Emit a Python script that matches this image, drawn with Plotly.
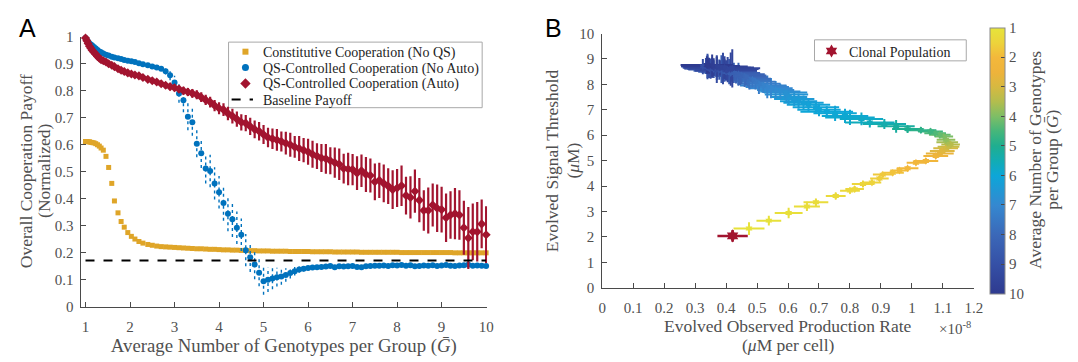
import plotly.graph_objects as go
from plotly.colors import sample_colorscale

# ---------------- Panel A data ----------------
G_A = [1.0, 1.03, 1.06, 1.09, 1.12, 1.15, 1.19, 1.23, 1.27, 1.31, 1.35, 1.4, 1.46, 1.52,
       1.59, 1.65, 1.73, 1.8, 1.87, 1.95, 2.03, 2.11, 2.2, 2.29,
       2.4, 2.5, 2.6, 2.7, 2.8, 2.9, 3.0,
       3.1, 3.2, 3.3, 3.4, 3.5, 3.6, 3.7, 3.8, 3.9, 4.0,
       4.1, 4.2, 4.3, 4.4, 4.5, 4.6, 4.7, 4.8, 4.9, 5.0,
       5.1, 5.2, 5.3, 5.4, 5.5, 5.6, 5.7, 5.8, 5.9, 6.0,
       6.1, 6.2, 6.3, 6.4, 6.5, 6.6, 6.7, 6.8, 6.9, 7.0,
       7.1, 7.2, 7.3, 7.4, 7.5, 7.6, 7.7, 7.8, 7.9, 8.0,
       8.1, 8.2, 8.3, 8.4, 8.5, 8.6, 8.7, 8.8, 8.9, 9.0,
       9.1, 9.2, 9.3, 9.4, 9.5, 9.6, 9.7, 9.8, 9.9, 10.0]

const_payoff = [0.612, 0.612, 0.611, 0.611, 0.609, 0.608, 0.607, 0.604, 0.600, 0.595, 0.588, 0.580,
                0.557, 0.516, 0.457, 0.392, 0.348, 0.316, 0.295, 0.275, 0.261, 0.251, 0.242, 0.236,
                0.231, 0.228, 0.225, 0.223, 0.222, 0.221, 0.220,
                0.219, 0.218, 0.217, 0.216, 0.215, 0.215, 0.214, 0.213, 0.213, 0.212,
                0.211, 0.211, 0.210, 0.210, 0.209, 0.209, 0.208, 0.208, 0.207, 0.207,
                0.207, 0.206, 0.206, 0.206, 0.206, 0.205, 0.205, 0.205, 0.205, 0.205,
                0.204, 0.204, 0.204, 0.204, 0.204, 0.203, 0.203, 0.203, 0.203, 0.203,
                0.203, 0.202, 0.202, 0.202, 0.202, 0.202, 0.202, 0.202, 0.202, 0.202,
                0.201, 0.201, 0.201, 0.201, 0.201, 0.201, 0.201, 0.201, 0.201, 0.201,
                0.201, 0.201, 0.200, 0.200, 0.200, 0.200, 0.200, 0.200, 0.200, 0.200]

qs_noauto = [0.995, 0.988, 0.981, 0.975, 0.971, 0.967, 0.962, 0.956, 0.951, 0.945, 0.942, 0.938,
             0.933, 0.930, 0.926, 0.923, 0.920, 0.917, 0.914, 0.911, 0.909, 0.906, 0.902, 0.898,
             0.894, 0.890, 0.886, 0.881, 0.872, 0.857, 0.830,
             0.790, 0.765, 0.704, 0.683, 0.604, 0.569, 0.512, 0.503, 0.457, 0.424,
             0.384, 0.345, 0.324, 0.293, 0.267, 0.210, 0.184, 0.157, 0.126, 0.095,
             0.100, 0.105, 0.110, 0.112, 0.118, 0.125, 0.132, 0.138, 0.141, 0.144,
             0.146, 0.147, 0.148, 0.149, 0.151, 0.147, 0.150, 0.149, 0.150, 0.151,
             0.148, 0.147, 0.150, 0.151, 0.152, 0.152, 0.153, 0.151, 0.154, 0.153,
             0.155, 0.152, 0.154, 0.150, 0.151, 0.153, 0.152, 0.154, 0.151, 0.153,
             0.155, 0.152, 0.151, 0.153, 0.154, 0.156, 0.152, 0.153, 0.152, 0.151]

qs_noauto_err = [0.004, 0.004, 0.004, 0.004, 0.004, 0.004, 0.004, 0.004, 0.004, 0.004, 0.004, 0.004,
                 0.004, 0.004, 0.004, 0.004, 0.004, 0.004, 0.004, 0.004, 0.004, 0.004, 0.004, 0.004,
                 0.004, 0.005, 0.006, 0.008, 0.012, 0.018, 0.025,
                 0.035, 0.045, 0.050, 0.050, 0.050, 0.055, 0.055, 0.060, 0.060, 0.060,
                 0.065, 0.065, 0.065, 0.060, 0.060, 0.060, 0.055, 0.055, 0.050, 0.050,
                 0.045, 0.040, 0.035, 0.030, 0.025, 0.020, 0.016, 0.012, 0.010, 0.008,
                 0.008, 0.007, 0.007, 0.006, 0.006, 0.006, 0.005, 0.005, 0.005, 0.005,
                 0.005, 0.005, 0.005, 0.005, 0.005, 0.005, 0.005, 0.005, 0.005, 0.005,
                 0.005, 0.005, 0.005, 0.005, 0.005, 0.005, 0.005, 0.005, 0.005, 0.005,
                 0.005, 0.005, 0.005, 0.005, 0.005, 0.005, 0.005, 0.005, 0.005, 0.005]

qs_auto = [0.995, 0.985, 0.975, 0.965, 0.957, 0.950, 0.942, 0.935, 0.927, 0.920, 0.915, 0.911,
           0.906, 0.900, 0.894, 0.889, 0.881, 0.876, 0.871, 0.866, 0.862, 0.858, 0.855, 0.849,
           0.842, 0.837, 0.832, 0.826, 0.820, 0.815, 0.811,
           0.806, 0.800, 0.795, 0.790, 0.785, 0.776, 0.766, 0.758, 0.745, 0.735,
           0.730, 0.716, 0.706, 0.695, 0.683, 0.680, 0.668, 0.657, 0.650, 0.638,
           0.627, 0.622, 0.618, 0.612, 0.606, 0.600, 0.592, 0.586, 0.580, 0.574,
           0.565, 0.558, 0.551, 0.548, 0.541, 0.534, 0.528, 0.512, 0.510, 0.508,
           0.495, 0.504, 0.490, 0.486, 0.463, 0.468, 0.457, 0.447, 0.434, 0.440,
           0.448, 0.412, 0.405, 0.428, 0.395, 0.357, 0.357, 0.377, 0.365, 0.360,
           0.330, 0.340, 0.345, 0.340, 0.293, 0.255, 0.278, 0.278, 0.307, 0.267]

qs_auto_err = [0.004, 0.004, 0.005, 0.005, 0.005, 0.005, 0.006, 0.006, 0.006, 0.006, 0.007, 0.007,
               0.007, 0.007, 0.008, 0.008, 0.008, 0.008, 0.009, 0.009, 0.009, 0.009, 0.010, 0.010,
               0.010, 0.011, 0.011, 0.012, 0.012, 0.013, 0.013,
               0.014, 0.015, 0.015, 0.016, 0.017, 0.018, 0.019, 0.020, 0.021, 0.022,
               0.024, 0.025, 0.027, 0.028, 0.030, 0.030, 0.032, 0.033, 0.034, 0.035,
               0.036, 0.038, 0.040, 0.037, 0.042, 0.044, 0.040, 0.046, 0.045, 0.048,
               0.050, 0.048, 0.052, 0.055, 0.050, 0.056, 0.058, 0.055, 0.060, 0.058,
               0.062, 0.060, 0.065, 0.063, 0.068, 0.065, 0.070, 0.066, 0.072, 0.070,
               0.075, 0.070, 0.078, 0.080, 0.082, 0.075, 0.085, 0.080, 0.088, 0.085,
               0.090, 0.088, 0.095, 0.092, 0.100, 0.115, 0.105, 0.110, 0.090, 0.105]

baseline_x = [1.0, 10.0]
baseline_y = [0.172, 0.172]

legend_A = ["Constitutive Cooperation (No QS)", "QS-Controlled Cooperation (No Auto)",
            "QS-Controlled Cooperation (Auto)", "Baseline Payoff"]

# ---------------- Panel B data ----------------
B_G = [1.05, 1.1, 1.15, 1.2, 1.25, 1.3, 1.35, 1.4, 1.45, 1.5, 1.6, 1.7, 1.8, 1.9,
       2.0, 2.1, 2.2, 2.4, 2.6, 2.8, 3.0, 3.2, 3.4, 3.6, 3.8, 4.0, 4.2, 4.4, 4.6, 4.8,
       5.0, 5.2, 5.4, 5.6, 5.75,
       5.85, 5.9, 5.95, 6.0, 6.05, 6.1, 6.15, 6.2, 6.3, 6.4, 6.5, 6.6, 6.7, 6.8, 6.9, 7.0,
       7.1, 7.2, 7.35, 7.5,
       7.6, 7.7, 7.8, 7.9, 8.0, 8.1, 8.15, 8.2, 8.25, 8.3, 8.35, 8.4, 8.45, 8.5, 8.55,
       8.6, 8.65, 8.7, 8.75, 8.8, 8.85, 8.9, 8.95, 9.0, 9.05, 9.1, 9.15, 9.2, 9.25, 9.3,
       9.4, 9.45, 9.5, 9.55, 9.6, 9.65, 9.7, 9.8, 9.85, 9.9, 10.0]
B_rate = [0.474, 0.538, 0.602, 0.661, 0.690, 0.754, 0.800, 0.815, 0.842, 0.871, 0.895, 0.906, 0.938, 0.960,
          0.986, 1.013, 1.045, 1.077, 1.090, 1.098, 1.109, 1.118, 1.125, 1.114, 1.110, 1.103, 1.090, 1.075,
          1.060, 1.029, 0.986, 0.949, 0.911, 0.864, 0.837,
          0.800, 0.784, 0.752, 0.725, 0.700, 0.690, 0.666, 0.650, 0.634, 0.620, 0.602, 0.595, 0.592,
          0.575, 0.560, 0.545, 0.533, 0.520, 0.506, 0.495, 0.485, 0.475, 0.470, 0.460, 0.464, 0.450,
          0.445, 0.440, 0.432, 0.425, 0.415, 0.410, 0.400, 0.395, 0.390, 0.385, 0.378, 0.370, 0.360,
          0.355, 0.346, 0.340, 0.340, 0.335, 0.325, 0.345, 0.350, 0.370, 0.390, 0.405, 0.400, 0.415,
          0.420, 0.395, 0.380, 0.370, 0.360, 0.355, 0.345, 0.338, 0.340]
B_rate_err = [0.050, 0.040, 0.045, 0.042, 0.040, 0.032, 0.032, 0.030, 0.036, 0.030, 0.030, 0.032, 0.036, 0.030,
              0.035, 0.030, 0.040, 0.040, 0.045, 0.040, 0.040, 0.035, 0.030, 0.035, 0.030, 0.030, 0.035, 0.035,
              0.040, 0.050, 0.050, 0.060, 0.070, 0.080, 0.070,
              0.080, 0.075, 0.070, 0.085, 0.070, 0.075, 0.070, 0.065, 0.060, 0.065, 0.060, 0.070, 0.070,
              0.065, 0.060, 0.070, 0.070, 0.075, 0.070, 0.065, 0.060, 0.070, 0.075, 0.070, 0.070, 0.080,
              0.080, 0.085, 0.080, 0.085, 0.085, 0.090, 0.090, 0.095, 0.095, 0.090, 0.100, 0.090, 0.085,
              0.085, 0.080, 0.080, 0.075, 0.080, 0.070, 0.085, 0.085, 0.090, 0.090, 0.095, 0.100, 0.090,
              0.090, 0.095, 0.100, 0.100, 0.095, 0.090, 0.090, 0.085, 0.080]
B_thr = [2.33, 2.64, 2.94, 3.20, 3.36, 3.61, 3.82, 3.88, 4.08, 4.14, 4.30, 4.45, 4.52, 4.61,
         4.70, 4.92, 4.99, 5.18, 5.28, 5.38, 5.49, 5.55, 5.63, 5.72, 5.82, 5.95, 6.02, 6.08,
         6.15, 6.20, 6.24, 6.35, 6.44, 6.50, 6.64,
         6.70, 6.76, 6.86, 6.92, 7.00, 7.10, 7.20, 7.28, 7.34, 7.42, 7.50, 7.60, 7.68,
         7.72, 7.78, 7.85, 7.90, 7.96, 8.02, 8.10, 8.18, 8.15, 8.22, 8.30, 8.28, 8.35,
         8.33, 8.40, 8.38, 8.45, 8.45, 8.50, 8.50, 8.55, 8.54, 8.60, 8.58, 8.62, 8.60,
         8.66, 8.63, 8.70, 8.70, 8.74, 8.70, 8.65, 8.62, 8.60, 8.62, 8.58, 8.55, 8.60,
         8.63, 8.66, 8.65, 8.70, 8.68, 8.72, 8.72, 8.76, 8.75]
B_thr_err = [0.25, 0.19, 0.21, 0.18, 0.15, 0.14, 0.12, 0.12, 0.13, 0.11, 0.10, 0.10, 0.10, 0.09,
             0.08, 0.10, 0.10, 0.10, 0.09, 0.10, 0.10, 0.10, 0.12, 0.12, 0.12, 0.12, 0.15, 0.13,
             0.12, 0.12, 0.15, 0.25, 0.20, 0.20, 0.25,
             0.30, 0.28, 0.30, 0.22, 0.25, 0.25, 0.25, 0.28, 0.30, 0.28, 0.30, 0.32, 0.30,
             0.30, 0.35, 0.40, 0.45, 0.30, 0.40, 0.30, 0.30, 0.35, 0.30, 0.40, 0.30, 0.35,
             0.35, 0.45, 0.35, 0.40, 0.35, 0.50, 0.35, 0.45, 0.40, 0.55, 0.40, 0.45, 0.35,
             0.40, 0.35, 0.45, 0.50, 0.30, 0.30, 0.40, 0.40, 0.55, 0.62, 0.50, 0.40, 0.65,
             0.75, 0.45, 0.30, 0.40, 0.35, 0.45, 0.30, 0.35, 0.30]

clonal_rate = [0.421]
clonal_rate_err = [0.049]
clonal_thr = [2.04]
clonal_thr_err = [0.23]
legend_B = ["Clonal Population"]

cbar_vals = [1, 2, 3, 4, 5, 6, 7, 8, 9, 10]

# ---------------- Styling ----------------
W, H = 1078, 362
SERIF = "Liberation Serif, Times New Roman, serif"
TXT = "#505050"
AXC = "#4a4a4a"
YEL = "#DFA528"
BLUE = "#0072BD"
RED = "#A2142F"

PARULA = [[0.0, "#2E3A8F"], [0.111, "#3550A6"], [0.222, "#3B68B8"], [0.333, "#3588D0"],
          [0.444, "#0DA6D8"], [0.5, "#12ACB4"], [0.556, "#1FAE90"], [0.611, "#45B67B"],
          [0.667, "#7DBE66"], [0.722, "#B2BD4E"], [0.778, "#D6B941"], [0.833, "#EEB33B"],
          [0.889, "#F3B83B"], [0.944, "#EDD33B"], [1.0, "#E6E43B"]]


def fx(p):
    return p / W


def fy(p):
    return (H - p) / H


# pixel frame of each panel (left, right, top, bottom)
A_L, A_R, A_T, A_B = 77.5, 489.0, 30.0, 312.7
B_L, B_R, B_T, B_B = 605.5, 981.7, 26.7, 292.7

fig = go.Figure()

# ---- Panel A ----
fig.add_trace(go.Scatter(x=G_A, y=const_payoff, mode="markers", name=legend_A[0],
                         marker=dict(symbol="square", size=5, color=YEL, line=dict(width=0)),
                         cliponaxis=False, xaxis="x", yaxis="y"))

ex, ey = [], []
for g, v, e in zip(G_A, qs_noauto, qs_noauto_err):
    ex += [g, g, None]
    ey += [v - e, v + e, None]
fig.add_trace(go.Scatter(x=ex, y=ey, mode="lines", line=dict(color=BLUE, width=1.4, dash="dot"),
                         hoverinfo="skip", cliponaxis=False, xaxis="x", yaxis="y"))
fig.add_trace(go.Scatter(x=G_A, y=qs_noauto, mode="markers", name=legend_A[1],
                         marker=dict(symbol="circle", size=6, color=BLUE, line=dict(width=0)),
                         cliponaxis=False, xaxis="x", yaxis="y"))
fig.add_trace(go.Scatter(x=G_A, y=qs_auto, mode="markers", name=legend_A[2],
                         marker=dict(symbol="diamond", size=7, color=RED, line=dict(width=0)),
                         error_y=dict(type="data", array=qs_auto_err, width=0, thickness=2.2, color=RED),
                         cliponaxis=False, xaxis="x", yaxis="y"))
fig.add_trace(go.Scatter(x=baseline_x, y=baseline_y, mode="lines", name=legend_A[3],
                         line=dict(color="black", width=2, dash="dash"), xaxis="x", yaxis="y"))

# ---- Panel B ----
for g, xr, xe, yt, ye in zip(B_G, B_rate, B_rate_err, B_thr, B_thr_err):
    c = sample_colorscale(PARULA, [(10 - g) / 9])[0]
    fig.add_trace(go.Scatter(x=[xr], y=[yt], mode="markers",
                             marker=dict(size=1, color=c),
                             error_x=dict(type="data", array=[xe], width=0, thickness=2, color=c),
                             error_y=dict(type="data", array=[ye], width=0, thickness=2, color=c),
                             cliponaxis=False, xaxis="x2", yaxis="y2"))

fig.add_trace(go.Scatter(
    x=B_rate, y=B_thr, mode="markers",
    marker=dict(symbol="hexagram", size=6, color=[-g for g in B_G], colorscale=PARULA,
                cmin=-10, cmax=-1, line=dict(width=0), showscale=True,
                colorbar=dict(
                    tickvals=[-v for v in cbar_vals], ticktext=[str(v) for v in cbar_vals],
                    ticks="inside", ticklen=4, tickcolor=AXC,
                    tickfont=dict(family=SERIF, size=15, color=TXT),
                    outlinewidth=1, outlinecolor="#8a8a8a",
                    thickness=15, thicknessmode="pixels",
                    len=B_B - B_T, lenmode="pixels",
                    x=fx(998), xanchor="left", xpad=0,
                    y=fy((B_T + B_B) / 2), yanchor="middle", ypad=0)),
    cliponaxis=False, xaxis="x2", yaxis="y2"))

fig.add_trace(go.Scatter(x=clonal_rate, y=clonal_thr, mode="markers", name=legend_B[0],
                         marker=dict(symbol="hexagram", size=10, color=RED, line=dict(width=0)),
                         error_x=dict(type="data", array=clonal_rate_err, width=0, thickness=2.5, color=RED),
                         error_y=dict(type="data", array=clonal_thr_err, width=0, thickness=2.5, color=RED),
                         cliponaxis=False, xaxis="x2", yaxis="y2"))

# ---- manual legends (keys drawn on a full-figure pixel overlay axis) ----
legA_rows = [45.7, 62.3, 79.0, 95.7]
key_x = 244.4
fig.add_trace(go.Scatter(x=[key_x], y=[legA_rows[0]], mode="markers",
                         marker=dict(symbol="square", size=6, color=YEL), xaxis="x3", yaxis="y3"))
fig.add_trace(go.Scatter(x=[key_x], y=[legA_rows[1]], mode="markers",
                         marker=dict(symbol="circle", size=7, color=BLUE), xaxis="x3", yaxis="y3"))
fig.add_trace(go.Scatter(x=[key_x], y=[legA_rows[2]], mode="markers",
                         marker=dict(symbol="diamond", size=8, color=RED), xaxis="x3", yaxis="y3"))
fig.add_trace(go.Scatter(x=[230.4, 252.0], y=[legA_rows[3], legA_rows[3]], mode="lines",
                         line=dict(color="black", width=2, dash="dash"), xaxis="x3", yaxis="y3"))
fig.add_trace(go.Scatter(x=[837.6], y=[45.0], mode="markers",
                         marker=dict(symbol="hexagram", size=10, color=RED), xaxis="x3", yaxis="y3"))

shapes = [
    dict(type="rect", xref="paper", yref="paper", x0=fx(227.3), x1=fx(484.0), y0=fy(104.3), y1=fy(35.7),
         line=dict(color="#a8a8a8", width=1), fillcolor="white", layer="below"),
    dict(type="rect", xref="paper", yref="paper", x0=fx(820.4), x1=fx(974.0), y0=fy(55.3), y1=fy(33.3),
         line=dict(color="#a8a8a8", width=1), fillcolor="white", layer="below"),
]


def ann(text, x, y, size, color=TXT, angle=0, xanchor="center", family=SERIF):
    return dict(text=text, x=fx(x), y=fy(y), xref="paper", yref="paper", xanchor=xanchor,
                yanchor="middle", showarrow=False, textangle=angle,
                font=dict(family=family, size=size, color=color))


annotations = []
for txt, yy in zip(legend_A, legA_rows):
    annotations.append(ann(txt, 260.5, yy + 1, 14, color="#1e1e1e", xanchor="left"))
annotations.append(ann(legend_B[0], 853.7, 46.5, 14, color="#1e1e1e", xanchor="left"))
annotations += [
    ann("A", 13, 20.5, 25, color="black", xanchor="left", family="Liberation Sans, Arial, sans-serif"),
    ann("B", 546, 20.5, 25, color="black", xanchor="left", family="Liberation Sans, Arial, sans-serif"),
    ann("×10<sup>-8</sup>", 981, 335, 15, xanchor="right"),
    # y-axis title of panel A (two lines)
    ann("Overall Cooperation Payoff", 22.5, 170.5, 17.5, angle=-90),
    ann("(Normalized)", 41.0, 171.0, 17.5, angle=-90),
    # panel B axis titles
    ann("Evolved Signal Threshold", 555.0, 160.0, 17.5, angle=-90),
    ann("(<i>μ</i>M)", 575.6, 160.0, 17.5, angle=-90),
    ann("Evolved Observed Production Rate", (B_L + B_R) / 2, 333.0, 17.5),
    ann("(<i>μ</i>M per cell)", (B_L + B_R) / 2, 352.5, 17.5),
    # colorbar title
    ann("Average Number of Genotypes", 1044.0, 158.5, 17.5, angle=-90),
    ann("per Group (<i>Ḡ</i>)", 1061.0, 158.5, 17.5, angle=-90),
]

axis_common = dict(showline=True, linecolor=AXC, linewidth=1, ticks="inside", ticklen=5,
                   tickcolor=AXC, tickwidth=1, showgrid=False, zeroline=False, mirror=False,
                   tickfont=dict(family=SERIF, size=15, color=TXT))

fig.update_layout(
    width=W, height=H, margin=dict(l=0, r=0, t=0, b=0),
    paper_bgcolor="white", plot_bgcolor="rgba(0,0,0,0)", showlegend=False,
    xaxis=dict(domain=[fx(A_L), fx(A_R)], range=[0.889, 10.022], tickvals=list(range(1, 11)),
               anchor="y", ticklabelstandoff=6,
               title=dict(text="Average Number of Genotypes per Group (<i>Ḡ</i>)", standoff=4,
                          font=dict(family=SERIF, size=18.8, color=TXT)),
               **axis_common),
    yaxis=dict(domain=[fy(A_B), fy(A_T)], range=[0, 1], tick0=0, dtick=0.1, anchor="x",
               ticklabelstandoff=3, **axis_common),
    xaxis2=dict(domain=[fx(B_L), fx(B_R)], range=[0, 1.2], tick0=0, dtick=0.1, anchor="y2",
                ticklabelstandoff=6, **axis_common),
    yaxis2=dict(domain=[fy(B_B), fy(B_T)], range=[0, 10], tick0=0, dtick=1, anchor="x2",
                ticklabelstandoff=4, **axis_common),
    xaxis3=dict(domain=[0, 1], range=[0, W], visible=False, anchor="y3", fixedrange=True),
    yaxis3=dict(domain=[0, 1], range=[H, 0], visible=False, anchor="x3", fixedrange=True),
    shapes=shapes,
    annotations=annotations,
)

fig.write_html("out.html")
